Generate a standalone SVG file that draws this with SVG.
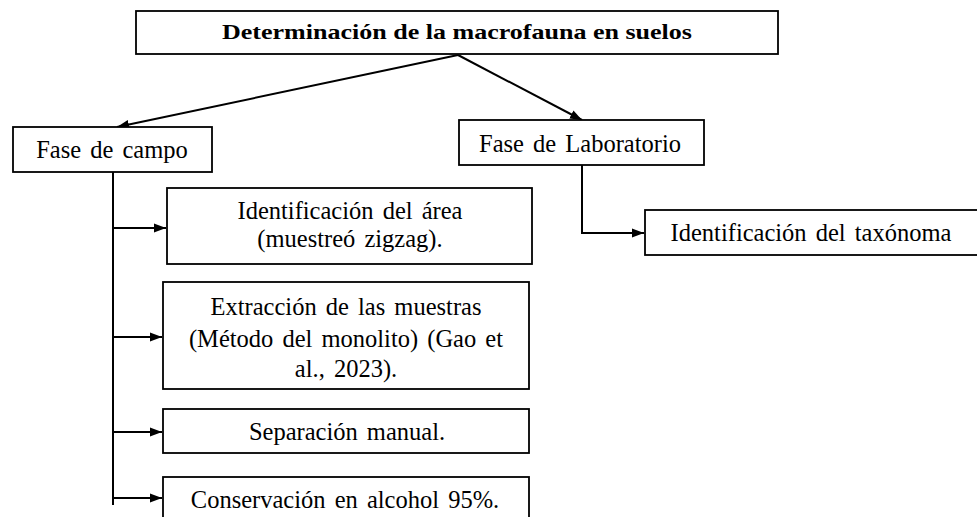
<svg xmlns="http://www.w3.org/2000/svg" width="977" height="517" viewBox="0 0 977 517">
<style>
.box{fill:#fff;stroke:#000;stroke-width:1.8}
.t{font-family:"Liberation Serif","Times New Roman",serif;font-size:24.5px;fill:#000;text-anchor:middle;word-spacing:3px}
.b{font-weight:bold;font-size:22px;word-spacing:0}
.c{fill:none;stroke:#000;stroke-width:2}
</style>
<defs>
<marker id="ah" viewBox="0 0 12 10" refX="12" refY="5" markerWidth="12" markerHeight="10" markerUnits="userSpaceOnUse" orient="auto">
<path d="M0,0.5 L12,5 L0,9.5 Z" fill="#000"/>
</marker>
</defs>
<g id="connectors">
<line class="c" x1="458" y1="55" x2="117" y2="127" marker-end="url(#ah)"/>
<line class="c" x1="458" y1="55" x2="582" y2="120" marker-end="url(#ah)"/>
<polyline class="c" points="582,165 582,233 644,233" marker-end="url(#ah)"/>
<line class="c" x1="113" y1="172" x2="113" y2="505"/>
<line class="c" x1="113" y1="228" x2="166" y2="228" marker-end="url(#ah)"/>
<line class="c" x1="113" y1="337" x2="162" y2="337" marker-end="url(#ah)"/>
<line class="c" x1="113" y1="432" x2="162" y2="432" marker-end="url(#ah)"/>
<line class="c" x1="113" y1="498" x2="162" y2="498" marker-end="url(#ah)"/>
</g>
<g id="n-title">
<rect class="box" x="136" y="11" width="642" height="43"/>
<text class="t b" x="457" y="39" textLength="470" lengthAdjust="spacingAndGlyphs">Determinación de la macrofauna  en suelos</text>
</g>
<g id="n-campo">
<rect class="box" x="13" y="127" width="199" height="45"/>
<text class="t" x="112" y="158">Fase de campo</text>
</g>
<g id="n-lab">
<rect class="box" x="459" y="120" width="245" height="45"/>
<text class="t" x="580" y="152">Fase de Laboratorio</text>
</g>
<g id="n-taxonoma">
<rect class="box" x="645" y="210" width="345" height="45"/>
<text class="t" x="811" y="241">Identificación  del taxónoma</text>
</g>
<g id="n-area">
<rect class="box" x="167" y="188" width="365" height="76"/>
<text class="t" x="350" y="219">Identificación  del área</text>
<text class="t" x="350" y="247">(muestreó zigzag).</text>
</g>
<g id="n-extraccion">
<rect class="box" x="163" y="282" width="366" height="107"/>
<text class="t" x="346" y="315">Extracción  de las muestras</text>
<text class="t" x="346" y="347">(Método del monolito) (Gao et</text>
<text class="t" x="346" y="377">al., 2023).</text>
</g>
<g id="n-separacion">
<rect class="box" x="163" y="409" width="366" height="44"/>
<text class="t" x="347" y="440">Separación  manual.</text>
</g>
<g id="n-conservacion">
<rect class="box" x="163" y="477" width="366" height="60"/>
<text class="t" x="345" y="508">Conservación  en alcohol 95%.</text>
</g>
</svg>
